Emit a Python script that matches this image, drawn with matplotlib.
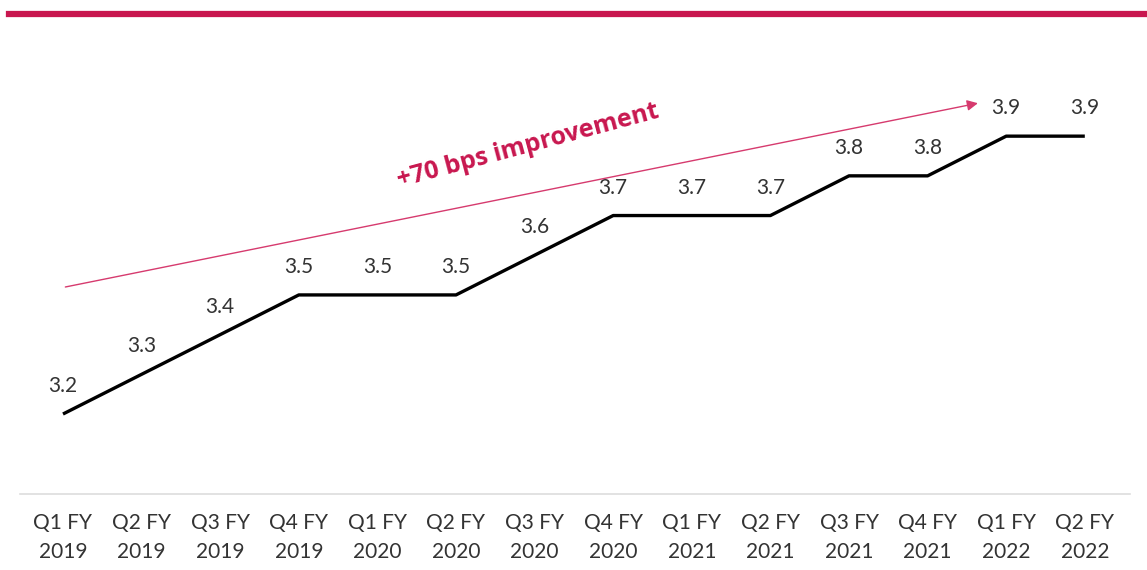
import matplotlib.pyplot as plt
from matplotlib.lines import Line2D

quarters = ["Q1 FY\n2019", "Q2 FY\n2019", "Q3 FY\n2019", "Q4 FY\n2019",
            "Q1 FY\n2020", "Q2 FY\n2020", "Q3 FY\n2020", "Q4 FY\n2020",
            "Q1 FY\n2021", "Q2 FY\n2021", "Q3 FY\n2021", "Q4 FY\n2021",
            "Q1 FY\n2022", "Q2 FY\n2022"]
values = [3.2, 3.3, 3.4, 3.5, 3.5, 3.5, 3.6, 3.7, 3.7, 3.7, 3.8, 3.8, 3.9, 3.9]

red = "#C8174F"
plt.rcParams["font.family"] = ["Lato", "DejaVu Sans"]

fig = plt.figure(figsize=(11.47, 5.70), dpi=100)
ax = fig.add_axes([20 / 1147, 76 / 570, 1110 / 1147, 494 / 570])

x = list(range(len(values)))
ax.plot(x, values, color="black", lw=2.4, solid_capstyle="butt")
for i, v in zip(x, values):
    ax.text(i, v + 0.045, f"{v:.1f}", ha="center", va="bottom",
            fontsize=15, color="#333333")

ax.set_xlim(-0.547, 13.575)
ax.set_ylim(2.9985, 4.243)
ax.set_xticks(x)
ax.set_xticklabels(quarters, fontsize=15, color="#333333", linespacing=1.55)
ax.tick_params(axis="x", length=0, pad=14)
ax.set_yticks([])
for s in ["top", "left", "right"]:
    ax.spines[s].set_visible(False)
ax.spines["bottom"].set_color("#DDDDDD")
ax.spines["bottom"].set_linewidth(1.2)

# trend arrow and caption
ax.annotate("", xy=(11.64, 3.983), xytext=(0.03, 3.52),
            arrowprops=dict(arrowstyle="-|>", color="#D63A6E", lw=1.0,
                            mutation_scale=16, shrinkA=0, shrinkB=0))
ax.text(5.92, 3.875, "+70 bps improvement", rotation=15, ha="center",
        va="center", fontsize=18, fontweight="bold", color=red,
        family="Open Sans")

# header rule
fig.add_artist(Line2D([9 / 1147, 1.0], [1 - 14 / 570, 1 - 14 / 570],
                      color=red, lw=4.5, transform=fig.transFigure))

fig.savefig("out.png", dpi=100)
